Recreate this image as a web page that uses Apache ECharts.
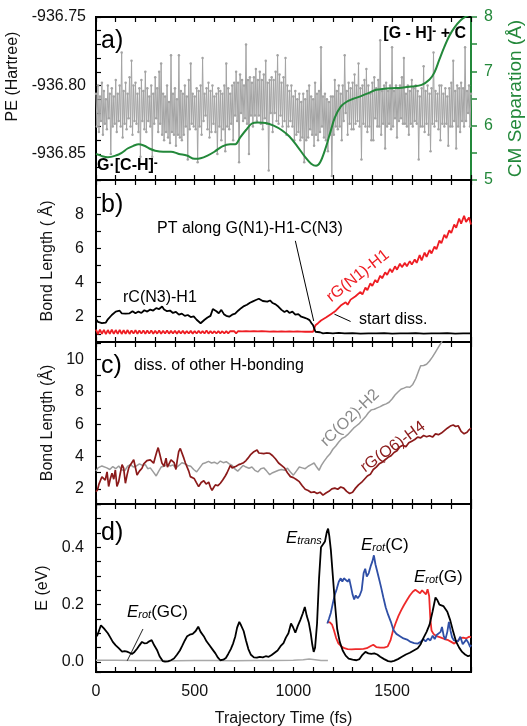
<!DOCTYPE html>
<html><head><meta charset="utf-8">
<script src="https://cdn.jsdelivr.net/npm/echarts@6/dist/echarts.min.js"></script>
<style>html,body{margin:0;padding:0;background:#fff}#c{width:527px;height:726px}</style>
</head><body><div id="c"></div>
<script>
const FONT = '"Liberation Sans", Arial, sans-serif';

// ---------- tick spacing / labelled ticks ----------
const xTickStep = 100;
const xLabelValues = [0, 500, 1000, 1500];
const peTickStep = 0.01;
const peLabelValues = [-936.85, -936.80, -936.75];
const cmTickStep = 0.5;
const cmLabelValues = [5, 6, 7, 8];
const bTickStep = 1;
const bLabelValues = [2, 4, 6, 8];
const cTickStep = 1;
const cLabelValues = [2, 4, 6, 8, 10];
const dTickStep = 0.05;
const dLabelValues = [0, 0.2, 0.4];

// ---------- panel a: potential energy (sampled every 5 fs) ----------
const peStep = 5;
const peValues = [
-936.806,-936.830,-936.800,-936.834,-936.808,-936.826,-936.798,-936.836,-936.804,-936.828,-936.810,-936.832,-936.800,-936.824,-936.806,-936.850,-936.802,-936.830,-936.808,-936.828,
-936.796,-936.834,-936.806,-936.826,-936.800,-936.830,-936.776,-936.838,-936.804,-936.828,-936.798,-936.832,-936.806,-936.824,-936.794,-936.830,-936.782,-936.836,-936.800,-936.826,
-936.798,-936.828,-936.806,-936.834,-936.802,-936.852,-936.796,-936.826,-936.804,-936.832,-936.790,-936.834,-936.802,-936.826,-936.808,-936.830,-936.800,-936.852,-936.806,-936.828,
-936.794,-936.824,-936.802,-936.834,-936.790,-936.828,-936.784,-936.836,-936.806,-936.840,-936.808,-936.834,-936.800,-936.838,-936.812,-936.842,-936.778,-936.834,-936.806,-936.836,
-936.802,-936.844,-936.810,-936.836,-936.778,-936.838,-936.804,-936.840,-936.806,-936.836,-936.800,-936.830,-936.808,-936.854,-936.796,-936.832,-936.784,-936.828,-936.806,-936.830,
-936.808,-936.832,-936.802,-936.856,-936.804,-936.830,-936.800,-936.836,-936.780,-936.826,-936.806,-936.822,-936.802,-936.832,-936.798,-936.838,-936.804,-936.834,-936.800,-936.828,
-936.808,-936.834,-936.806,-936.850,-936.802,-936.830,-936.804,-936.840,-936.806,-936.832,-936.800,-936.848,-936.784,-936.830,-936.802,-936.832,-936.806,-936.828,-936.800,-936.840,
-936.798,-936.822,-936.790,-936.826,-936.798,-936.856,-936.792,-936.820,-936.796,-936.826,-936.800,-936.824,-936.770,-936.828,-936.796,-936.850,-936.794,-936.822,-936.798,-936.830,
-936.794,-936.822,-936.788,-936.826,-936.796,-936.822,-936.790,-936.828,-936.796,-936.832,-936.792,-936.824,-936.782,-936.828,-936.798,-936.862,-936.796,-936.820,-936.794,-936.834,
-936.796,-936.820,-936.790,-936.826,-936.778,-936.828,-936.792,-936.822,-936.798,-936.830,-936.794,-936.826,-936.780,-936.836,-936.800,-936.830,-936.804,-936.826,-936.800,-936.830,
-936.808,-936.840,-936.804,-936.836,-936.810,-936.834,-936.806,-936.840,-936.812,-936.838,-936.806,-936.856,-936.810,-936.840,-936.804,-936.838,-936.800,-936.832,-936.808,-936.836,
-936.810,-936.844,-936.798,-936.836,-936.806,-936.840,-936.804,-936.834,-936.772,-936.830,-936.808,-936.838,-936.806,-936.840,-936.810,-936.848,-936.812,-936.836,-936.808,-936.866,
-936.808,-936.836,-936.796,-936.830,-936.804,-936.832,-936.800,-936.830,-936.806,-936.840,-936.800,-936.826,-936.778,-936.820,-936.804,-936.836,-936.798,-936.828,-936.802,-936.832,
-936.798,-936.832,-936.792,-936.828,-936.800,-936.826,-936.784,-936.830,-936.802,-936.854,-936.800,-936.828,-936.796,-936.830,-936.788,-936.834,-936.800,-936.830,-936.806,-936.840,
-936.798,-936.840,-936.794,-936.824,-936.802,-936.830,-936.796,-936.830,-936.767,-936.836,-936.804,-936.828,-936.800,-936.846,-936.798,-936.830,-936.804,-936.828,-936.800,-936.832,
-936.772,-936.830,-936.804,-936.824,-936.800,-936.838,-936.802,-936.826,-936.800,-936.824,-936.794,-936.828,-936.780,-936.828,-936.806,-936.830,-936.800,-936.836,-936.804,-936.828,
-936.796,-936.830,-936.802,-936.826,-936.800,-936.828,-936.804,-936.854,-936.808,-936.830,-936.802,-936.830,-936.786,-936.834,-936.804,-936.828,-936.800,-936.836,-936.806,-936.848,
-936.802,-936.828,-936.776,-936.830,-936.804,-936.826,-936.806,-936.832,-936.800,-936.840,-936.800,-936.828,-936.806,-936.830,-936.802,-936.828,-936.808,-936.844,-936.802,-936.830,
-936.798,-936.830,-936.782,-936.826,-936.804,-936.846,-936.800,-936.830,-936.802,-936.834,-936.798,-936.826,-936.802,-936.830,-936.772,-936.826,-936.804,-936.820,-936.800,-936.830,
-936.806];

// CM separation (Å) [fs, value]
const cmData = [[0,5.48],[30,5.44],[60,5.42],[100,5.45],[130,5.50],[160,5.58],[190,5.63],[216,5.66],[245,5.63],[270,5.58],[300,5.54],[340,5.52],[380,5.52],[420,5.48],[460,5.45],[500,5.39],[530,5.40],[565,5.45],[600,5.52],[640,5.62],[680,5.66],[706,5.66],[730,5.78],[760,5.92],[790,6.04],[820,6.06],[860,6.05],[900,6.00],[940,5.92],[980,5.80],[1020,5.62],[1060,5.42],[1090,5.30],[1115,5.26],[1135,5.32],[1160,5.55],[1185,5.85],[1210,6.15],[1240,6.35],[1270,6.44],[1300,6.49],[1340,6.54],[1380,6.60],[1420,6.66],[1460,6.68],[1500,6.69],[1550,6.70],[1600,6.72],[1650,6.75],[1690,6.85],[1715,6.98],[1740,7.22],[1765,7.45],[1790,7.65],[1815,7.80],[1845,7.93],[1870,8.00],[1900,8.05]];

// ---------- panel b ----------
const bBlack = [[0,1.85],[10,1.70],[20,1.78],[30,1.62],[40,1.72],[50,1.66],[60,1.85],[70,1.80],[80,2.10],[90,2.05],[100,2.30],[110,2.22],[120,2.35],[130,2.20],[140,2.30],[150,2.18],[160,2.28],[170,2.20],[185,2.32],[200,2.20],[215,2.30],[230,2.22],[245,2.38],[260,2.30],[275,2.42],[290,2.36],[305,2.50],[320,2.45],[335,2.60],[345,2.42],[360,2.32],[375,2.36],[390,2.22],[405,2.28],[420,2.12],[435,2.18],[450,2.05],[465,2.10],[480,1.98],[495,2.02],[510,1.82],[520,1.72],[530,1.62],[540,1.70],[550,1.82],[565,1.95],[580,2.05],[592,2.45],[600,2.55],[610,2.32],[622,2.20],[635,2.40],[648,2.15],[660,2.05],[675,2.00],[690,2.12],[705,2.18],[720,2.35],[735,2.50],[750,2.62],[765,2.70],[780,2.82],[795,2.90],[810,2.98],[825,3.05],[835,3.12],[845,2.92],[855,3.02],[868,2.88],[882,2.95],[895,2.80],[910,2.72],[925,2.58],[940,2.40],[955,2.28],[968,2.36],[980,2.22],[995,2.30],[1010,2.12],[1025,2.15],[1040,2.00],[1055,1.95],[1070,1.88],[1082,1.80],[1092,1.62],[1100,1.50],[1106,1.30],[1112,1.12],[1120,1.06],[1135,1.09],[1150,1.03],[1170,1.06],[1200,1.02],[1230,1.05],[1260,1.02],[1300,1.04],[1340,1.01],[1380,1.03],[1420,1.02],[1460,1.04],[1500,1.01],[1540,1.03],[1580,1.02],[1620,1.04],[1660,1.01],[1700,1.03],[1740,1.02],[1780,1.04],[1820,1.01],[1860,1.03],[1900,1.02]];
// red rG(N1)-H1 before PT, every 10 fs
const bRedBaseStep = 10;
const bRedBase = [
1.24,0.98,1.25,0.99,1.23,0.98,1.22,1.00,1.24,0.99,1.22,
1.00,1.23,0.99,1.21,1.00,1.22,0.99,1.20,1.01,1.21,
1.00,1.19,1.01,1.20,1.00,1.19,1.01,1.20,1.00,1.18,
1.01,1.19,1.00,1.18,1.02,1.19,1.01,1.17,1.02,1.18,
1.01,1.17,1.02,1.18,1.01,1.16,1.02,1.17,1.01,1.16,
1.02,1.17,1.03,1.16,1.02,1.20,1.01,1.16,1.03,1.15,
1.02,1.16,1.03,1.15,1.02,1.16,1.03,1.15,1.04,1.16,
1.03,1.15,1.04,1.14,1.03,1.15,1.04,1.14,1.03,1.15,
1.04,1.14,1.05,1.15,1.04,1.14,1.05,1.13,1.04,1.14,
1.05,1.13,1.04,1.14,1.05,1.13,1.06,1.14,1.05,1.13,
1.06,1.14,1.05,1.13,1.06,1.12,1.07,1.13,1.08,1.12];
const bRedRise = [[1106,1.10],[1112,1.50],[1125,1.62],[1140,1.78],[1150,1.68],[1165,1.95],[1175,1.90],[1190,2.15],[1200,2.05],[1215,2.35],[1225,2.25],[1240,2.65],[1250,2.55],[1265,2.85],[1275,2.70],[1290,3.00],[1300,2.90],[1315,3.20],[1325,3.10],[1340,3.45],[1350,3.30],[1365,3.70],[1375,3.55],[1390,3.95],[1400,3.80],[1415,4.15],[1425,4.00],[1440,4.40],[1450,4.25],[1465,4.60],[1475,4.45],[1490,4.80],[1500,4.60],[1515,4.95],[1525,4.75],[1540,5.10],[1550,4.90],[1565,5.15],[1575,4.95],[1590,5.25],[1600,5.05],[1615,5.35],[1625,5.15],[1640,5.60],[1650,5.30],[1665,5.75],[1675,5.50],[1690,5.90],[1700,5.70],[1715,6.10],[1725,5.95],[1740,6.45],[1750,6.30],[1765,6.80],[1775,6.60],[1790,7.05],[1800,6.90],[1815,7.40],[1825,7.20],[1840,7.75],[1850,7.45],[1865,7.90],[1875,7.55],[1890,7.80],[1900,7.40]];

// ---------- panel c ----------
const cGray = [[0,3.10],[10,3.30],[20,3.22],[30,3.42],[40,3.35],[55,3.30],[70,3.20],[85,3.38],[100,3.25],[115,3.42],[130,3.18],[145,3.12],[160,3.40],[175,3.50],[190,3.35],[205,3.42],[220,3.55],[235,3.45],[250,3.50],[262,3.25],[275,3.30],[290,3.05],[305,2.80],[318,3.10],[330,3.35],[345,3.40],[360,3.50],[375,3.42],[390,3.48],[405,3.30],[420,3.45],[435,3.62],[450,3.55],[465,3.45],[480,3.40],[495,3.20],[510,3.05],[525,3.30],[540,3.55],[555,3.62],[570,3.70],[585,3.60],[600,3.65],[615,3.55],[630,3.72],[645,3.62],[660,3.68],[675,3.55],[690,3.45],[705,3.22],[718,3.10],[730,3.25],[745,3.45],[760,3.35],[775,3.28],[790,3.35],[805,3.15],[820,3.05],[835,3.25],[850,3.30],[865,3.10],[880,2.88],[895,3.00],[910,3.08],[925,3.15],[940,3.20],[955,3.15],[970,3.28],[985,3.05],[1000,2.85],[1015,3.10],[1030,3.35],[1045,3.30],[1060,3.25],[1075,3.40],[1090,3.50],[1105,3.60],[1118,3.35],[1130,3.15],[1142,3.45],[1155,3.70],[1170,3.95],[1185,4.15],[1200,4.45],[1215,4.65],[1230,4.90],[1245,5.10],[1260,5.20],[1275,5.35],[1290,5.55],[1305,5.75],[1320,5.90],[1335,6.05],[1350,6.25],[1365,6.45],[1380,6.70],[1395,6.88],[1410,6.92],[1425,7.00],[1440,7.08],[1455,7.18],[1470,7.25],[1485,7.35],[1500,7.55],[1515,7.80],[1530,7.98],[1545,8.15],[1560,8.22],[1575,8.30],[1590,8.28],[1605,8.45],[1620,8.80],[1635,9.30],[1645,9.60],[1660,9.62],[1675,9.70],[1690,9.90],[1705,10.15],[1720,10.45],[1735,10.75],[1750,11.05],[1765,11.40]];
const cRed = [[0,1.82],[8,1.95],[15,2.30],[22,2.40],[30,2.75],[38,2.70],[47,2.55],[56,3.05],[64,2.15],[72,2.60],[81,2.97],[90,2.60],[98,3.17],[106,2.15],[115,2.45],[123,2.97],[132,3.50],[140,3.28],[149,2.35],[158,2.90],[166,3.30],[174,3.48],[182,3.60],[191,3.80],[199,3.85],[208,2.86],[220,3.10],[233,3.28],[242,3.55],[250,3.59],[258,3.75],[267,3.70],[275,3.79],[284,3.82],[292,3.59],[300,3.95],[308,4.30],[315,4.55],[322,4.20],[334,3.60],[345,3.40],[355,3.90],[362,3.35],[372,3.30],[380,3.79],[388,3.70],[396,3.62],[405,3.20],[412,3.80],[419,4.30],[427,4.50],[436,4.45],[445,3.90],[453,3.60],[462,3.48],[470,3.10],[478,2.76],[488,2.80],[497,2.65],[508,2.40],[520,2.14],[533,2.40],[546,2.50],[558,2.30],[571,2.42],[580,2.10],[588,1.92],[597,2.10],[605,2.25],[618,2.20],[630,2.35],[642,2.55],[655,2.80],[664,3.00],[672,3.05],[681,3.45],[690,3.30],[698,3.35],[710,3.40],[723,3.50],[735,3.55],[748,3.62],[760,3.75],[770,3.90],[782,4.10],[791,4.15],[800,4.30],[810,4.38],[816,4.40],[825,4.22],[835,4.25],[850,4.18],[865,4.22],[880,4.20],[895,4.05],[910,3.85],[925,3.60],[940,3.45],[955,3.30],[970,3.00],[985,2.76],[1000,2.70],[1015,2.58],[1030,2.45],[1045,2.20],[1060,1.98],[1075,1.90],[1090,1.78],[1105,1.82],[1120,1.72],[1135,1.80],[1150,1.62],[1165,1.75],[1180,1.85],[1195,2.00],[1210,2.05],[1225,1.98],[1240,2.12],[1255,2.05],[1270,1.85],[1285,1.72],[1300,1.80],[1315,2.05],[1330,2.25],[1345,2.40],[1360,2.60],[1375,2.80],[1390,2.90],[1405,3.20],[1420,3.35],[1435,3.55],[1450,3.65],[1465,3.80],[1480,3.95],[1495,4.05],[1510,4.25],[1525,4.35],[1540,4.60],[1555,4.70],[1570,4.60],[1585,4.85],[1600,4.95],[1615,5.05],[1630,5.20],[1645,5.15],[1660,5.30],[1675,5.22],[1690,5.28],[1705,5.20],[1720,5.40],[1735,5.35],[1750,5.45],[1765,5.60],[1780,5.75],[1795,5.88],[1810,5.95],[1822,5.85],[1835,5.90],[1850,5.55],[1865,5.40],[1880,5.50],[1890,5.65],[1900,5.75]];

// ---------- panel d ----------
const dTrans = [[0,0.087],[8,0.095],[15,0.100],[25,0.128],[32,0.122],[40,0.117],[50,0.112],[60,0.100],[73,0.085],[85,0.070],[100,0.058],[115,0.048],[132,0.036],[145,0.038],[157,0.036],[170,0.032],[182,0.028],[195,0.035],[208,0.046],[220,0.058],[233,0.070],[245,0.065],[258,0.066],[270,0.072],[282,0.076],[295,0.058],[309,0.042],[322,0.020],[338,0.003],[350,0.001],[365,0.002],[380,0.006],[395,0.012],[410,0.025],[425,0.040],[436,0.055],[450,0.075],[462,0.090],[475,0.095],[490,0.098],[505,0.108],[518,0.123],[530,0.105],[546,0.090],[560,0.072],[575,0.058],[590,0.044],[605,0.030],[618,0.015],[630,0.006],[645,0.008],[658,0.014],[670,0.028],[683,0.045],[695,0.065],[706,0.090],[715,0.120],[726,0.140],[735,0.128],[748,0.108],[760,0.075],[772,0.045],[785,0.025],[800,0.016],[815,0.015],[830,0.018],[845,0.016],[860,0.020],[875,0.018],[890,0.024],[905,0.032],[920,0.040],[935,0.055],[950,0.066],[962,0.085],[975,0.100],[988,0.134],[998,0.122],[1010,0.102],[1022,0.125],[1035,0.146],[1048,0.170],[1058,0.192],[1068,0.160],[1078,0.138],[1088,0.100],[1096,0.060],[1103,0.035],[1110,0.050],[1120,0.134],[1130,0.290],[1140,0.400],[1150,0.405],[1160,0.420],[1170,0.455],[1176,0.465],[1182,0.440],[1190,0.390],[1200,0.300],[1210,0.210],[1222,0.115],[1235,0.070],[1250,0.040],[1265,0.022],[1280,0.012],[1300,0.008],[1320,0.006],[1335,0.010],[1350,0.025],[1365,0.035],[1380,0.030],[1395,0.028],[1410,0.030],[1425,0.026],[1440,0.018],[1460,0.010],[1480,0.003],[1495,0.001],[1510,0.004],[1530,0.010],[1550,0.018],[1570,0.026],[1590,0.032],[1610,0.040],[1630,0.048],[1645,0.062],[1660,0.085],[1675,0.105],[1690,0.130],[1705,0.175],[1720,0.225],[1730,0.215],[1740,0.200],[1750,0.205],[1760,0.195],[1770,0.192],[1780,0.175],[1795,0.145],[1810,0.105],[1825,0.070],[1840,0.050],[1855,0.035],[1870,0.026],[1885,0.020],[1900,0.024]];
const dRotC = [[1172,0.134],[1180,0.150],[1190,0.172],[1200,0.205],[1210,0.235],[1220,0.255],[1230,0.280],[1240,0.292],[1248,0.280],[1256,0.292],[1265,0.290],[1275,0.280],[1283,0.290],[1292,0.262],[1300,0.235],[1308,0.218],[1316,0.232],[1326,0.222],[1336,0.232],[1346,0.250],[1356,0.310],[1364,0.325],[1372,0.298],[1382,0.310],[1392,0.335],[1400,0.350],[1408,0.372],[1416,0.340],[1424,0.318],[1434,0.290],[1444,0.262],[1456,0.225],[1468,0.190],[1480,0.165],[1494,0.140],[1508,0.110],[1522,0.098],[1540,0.090],[1558,0.082],[1576,0.078],[1594,0.070],[1612,0.066],[1630,0.064],[1645,0.070],[1658,0.080],[1670,0.072],[1682,0.082],[1694,0.075],[1706,0.092],[1716,0.080],[1726,0.094],[1736,0.088],[1746,0.105],[1753,0.122],[1762,0.090],[1770,0.078],[1780,0.105],[1788,0.140],[1796,0.110],[1804,0.086],[1814,0.075],[1824,0.080],[1834,0.072],[1846,0.088],[1858,0.062],[1866,0.058],[1876,0.078],[1886,0.068],[1896,0.052],[1900,0.060]];
const dRotG = [[1172,0.140],[1185,0.138],[1196,0.130],[1206,0.110],[1216,0.085],[1228,0.065],[1242,0.055],[1258,0.048],[1275,0.045],[1295,0.044],[1315,0.045],[1335,0.045],[1355,0.046],[1372,0.048],[1390,0.055],[1405,0.060],[1420,0.052],[1440,0.050],[1460,0.050],[1478,0.054],[1492,0.075],[1505,0.110],[1518,0.135],[1532,0.160],[1546,0.180],[1560,0.198],[1575,0.215],[1590,0.232],[1605,0.245],[1618,0.252],[1630,0.246],[1642,0.240],[1652,0.250],[1662,0.252],[1672,0.236],[1680,0.254],[1688,0.230],[1694,0.150],[1700,0.110],[1710,0.098],[1725,0.090],[1745,0.086],[1765,0.080],[1785,0.076],[1800,0.070],[1815,0.064],[1830,0.072],[1845,0.082],[1860,0.085],[1875,0.082],[1890,0.088],[1900,0.086]];
const dRotGC = [[0,0.006],[100,0.006],[200,0.005],[300,0.005],[400,0.004],[500,0.005],[600,0.005],[700,0.004],[800,0.005],[900,0.005],[1000,0.006],[1050,0.008],[1080,0.010],[1110,0.008],[1140,0.005],[1175,0.005]];

// ---------- build ----------
const peData = peValues.map((v, i) => [i * peStep, v]);
const bRed = bRedBase.map((v, i) => [i * bRedBaseStep, v]).concat(bRedRise);

const TXT = '#111';
const GREEN = '#23883a';
const lbl = {fontSize: 16, color: TXT, fontFamily: FONT};
const isIn = (list, v) => list.some(u => Math.abs(u - v) < 1e-6);
const fmtFrom = (list, dec) => v => isIn(list, v) ? (dec == null ? String(v) : v.toFixed(dec)) : '';

function xPair(gi, withLabels) {
  const common = {type: 'value', gridIndex: gi, min: 0, max: 1900, minInterval: xTickStep, maxInterval: xTickStep,
    splitNumber: 19, splitLine: {show: false},
    axisLine: {show: true, onZero: false, lineStyle: {color: '#000', width: 2}},
    axisTick: {show: true, inside: true, length: 5, lineStyle: {color: '#000', width: 1.2}}};
  return [
    Object.assign({}, common, {position: 'bottom',
      axisLabel: Object.assign({show: withLabels, margin: 12, formatter: fmtFrom(xLabelValues)}, lbl),
      name: withLabels ? 'Trajectory Time (fs)' : '', nameLocation: 'middle', nameGap: 39,
      nameTextStyle: {fontSize: 16, color: TXT, fontFamily: FONT}}),
    Object.assign({}, common, {position: 'top', axisLabel: {show: false}})
  ];
}
function yAx(gi, min, max, step, labels, dec, name, gap, extra) {
  return Object.assign({type: 'value', gridIndex: gi, min: min, max: max, minInterval: step, maxInterval: step,
    splitNumber: Math.round((max - min) / step), position: 'left',
    splitLine: {show: false},
    axisLine: {show: true, onZero: false, lineStyle: {color: '#000', width: 2}},
    axisTick: {show: true, inside: true, length: 5, lineStyle: {color: '#000', width: 1.2}},
    axisLabel: Object.assign({margin: 12, formatter: fmtFrom(labels, dec), showMinLabel: true, showMaxLabel: true}, lbl),
    name: name, nameLocation: 'middle', nameGap: gap, nameRotate: 90,
    nameTextStyle: {fontSize: 16, color: TXT, fontFamily: FONT}}, extra || {});
}

const gridBase = {left: 96, right: 56, show: true, borderColor: '#000', borderWidth: 2, outerBoundsMode: 'none'};
const option = {
  animation: false,
  backgroundColor: '#fff',
  grid: [
    Object.assign({top: 17, height: 163}, gridBase),
    Object.assign({top: 180, height: 162}, gridBase),
    Object.assign({top: 342, height: 162}, gridBase),
    Object.assign({top: 504, height: 168}, gridBase)
  ],
  xAxis: [].concat(xPair(0, false), xPair(1, false), xPair(2, false), xPair(3, true)),
  yAxis: [
    yAx(0, -936.869, -936.75, peTickStep, peLabelValues, 2, 'PE (Hartree)', 68,
      {nameTextStyle: {fontSize: 16, color: TXT, fontFamily: FONT, padding: [0, 0, 0, 44]},
       axisLabel: Object.assign({margin: 10, formatter: fmtFrom(peLabelValues, 2), showMaxLabel: true}, lbl)}),
    {type: 'value', gridIndex: 0, min: 5, max: 8, minInterval: cmTickStep, maxInterval: cmTickStep, splitNumber: 6,
      position: 'right', splitLine: {show: false},
      axisLine: {show: true, onZero: false, lineStyle: {color: GREEN, width: 2}},
      axisTick: {show: true, inside: false, length: 6, lineStyle: {color: GREEN, width: 1.5}},
      axisLabel: {margin: 13, fontSize: 16, color: GREEN, fontFamily: FONT, formatter: fmtFrom(cmLabelValues), showMinLabel: true, showMaxLabel: true},
      name: 'CM Separation (Å)', nameLocation: 'middle', nameGap: 35, nameRotate: 90,
      nameTextStyle: {fontSize: 19, color: GREEN, fontFamily: FONT}},
    yAx(1, 0.52, 10.0, bTickStep, bLabelValues, null, 'Bond Length ( Å)', 40),
    yAx(2, 1.07, 11.07, cTickStep, cLabelValues, null, 'Bond Length (Å)', 40),
    yAx(3, -0.035, 0.551, dTickStep, dLabelValues, 1, 'E (eV)', 40)
  ],
  series: [
    {type: 'line', xAxisIndex: 0, yAxisIndex: 0, data: peData, symbol: 'circle', symbolSize: 2.5, showAllSymbol: true,
      lineStyle: {color: '#a4a4a4', width: 1}, itemStyle: {color: '#a4a4a4'}, z: 2},
    {type: 'line', xAxisIndex: 0, yAxisIndex: 1, data: cmData, smooth: 0.35, symbol: 'none',
      lineStyle: {color: GREEN, width: 2}, z: 3},
    {type: 'line', xAxisIndex: 2, yAxisIndex: 2, data: bRed, symbol: 'none',
      lineStyle: {color: '#ee1d23', width: 1.8}, z: 2},
    {type: 'line', xAxisIndex: 2, yAxisIndex: 2, data: bBlack, symbol: 'none',
      lineStyle: {color: '#000', width: 1.8}, z: 3,
      markLine: {silent: true, symbol: ['none', 'arrow'], symbolSize: [0, 8], animation: false,
        label: {show: false}, lineStyle: {color: '#000', width: 1, type: 'solid'},
        data: [[{coord: [1010, 6.44]}, {coord: [1103, 1.75]}],
               [{coord: [1290, 1.72]}, {coord: [1208, 2.15]}]]}},
    {type: 'line', xAxisIndex: 4, yAxisIndex: 3, data: cGray, symbol: 'none',
      lineStyle: {color: '#9c9c9c', width: 1.5}, z: 2},
    {type: 'line', xAxisIndex: 4, yAxisIndex: 3, data: cRed, symbol: 'none',
      lineStyle: {color: '#8b1a1a', width: 1.7}, z: 3},
    {type: 'line', xAxisIndex: 6, yAxisIndex: 4, data: dRotGC, symbol: 'none',
      lineStyle: {color: '#a8a8a8', width: 1.5}, z: 2,
      markLine: {silent: true, symbol: ['none', 'none'], animation: false, label: {show: false},
        lineStyle: {color: '#222', width: 1, type: 'solid'},
        data: [[{coord: [158, 0.004]}, {coord: [238, 0.115]}]]}},
    {type: 'line', xAxisIndex: 6, yAxisIndex: 4, data: dRotG, symbol: 'none',
      lineStyle: {color: '#ee2a2a', width: 1.8}, z: 3},
    {type: 'line', xAxisIndex: 6, yAxisIndex: 4, data: dRotC, symbol: 'none',
      lineStyle: {color: '#2f4fa6', width: 1.8}, z: 4},
    {type: 'line', xAxisIndex: 6, yAxisIndex: 4, data: dTrans, symbol: 'none',
      lineStyle: {color: '#000', width: 1.8}, z: 5}
  ],
  graphic: (function () {
    const t = (x, y, text, o) => ({type: 'text', x: x, y: y, rotation: (o && o.rot) || 0, z: 100, silent: true,
      style: Object.assign({text: text, fill: '#000', font: '16px ' + FONT, textAlign: 'left', textVerticalAlign: 'middle',
        align: 'left', verticalAlign: 'middle'}, (o && o.style) || {})});
    const center = {textAlign: 'center', align: 'center'};
    const panel = {font: '25px ' + FONT};
    const eRich = (c) => ({
      e: {fontSize: 17, fontStyle: 'italic', fontFamily: FONT, color: c, lineHeight: 17, verticalAlign: 'top'},
      s: {fontSize: 11, fontStyle: 'italic', fontFamily: FONT, color: c, lineHeight: 7, verticalAlign: 'bottom'},
      n: {fontSize: 17, fontFamily: FONT, color: c, lineHeight: 17, verticalAlign: 'top'}
    });
    const supRich = {
      b: {fontSize: 16, fontWeight: 'bold', fontFamily: FONT, color: '#000', lineHeight: 17, verticalAlign: 'top'},
      p: {fontSize: 12, fontWeight: 'bold', fontFamily: FONT, color: '#000', lineHeight: 8, verticalAlign: 'top'}
    };
    return [
      t(101, 41, 'a)', {style: panel}),
      t(101, 205, 'b)', {style: panel}),
      t(101, 366, 'c)', {style: panel}),
      t(101, 533, 'd)', {style: panel}),
      t(466, 34, '{b|[G - H]}{p|-}{b| + C}', {style: {rich: supRich, textAlign: 'right', align: 'right'}}),
      t(97, 166, '{b|G·[C-H]}{p|-}', {style: {rich: supRich}}),
      t(157, 229, 'PT along G(N1)-H1-C(N3)'),
      t(123, 298, 'rC(N3)-H1'),
      t(358, 276, 'rG(N1)-H1', {rot: 38 * Math.PI / 180, style: Object.assign({fill: '#ee1d23'}, center)}),
      t(359, 320, 'start diss.'),
      t(134, 366, 'diss. of other H-bonding'),
      t(350, 418, 'rC(O2)-H2', {rot: 44 * Math.PI / 180, style: Object.assign({fill: '#8a8a8a'}, center)}),
      t(393, 447, 'rG(O6)-H4', {rot: 36 * Math.PI / 180, style: Object.assign({fill: '#8b1a1a'}, center)}),
      t(286, 538, '{e|E}{s|trans}', {style: {rich: eRich('#000')}}),
      t(361, 545, '{e|E}{s|rot}{n|(C)}', {style: {rich: eRich('#2f4fa6')}}),
      t(414, 577, '{e|E}{s|rot}{n|(G)}', {style: {rich: eRich('#ee2a2a')}}),
      t(127, 612, '{e|E}{s|rot}{n|(GC)}', {style: {rich: eRich('#8a8a8a')}})
    ];
  })()
};

const chart = echarts.init(document.getElementById('c'), null, {renderer: 'canvas'});
chart.setOption(option);
</script>
</body></html>
